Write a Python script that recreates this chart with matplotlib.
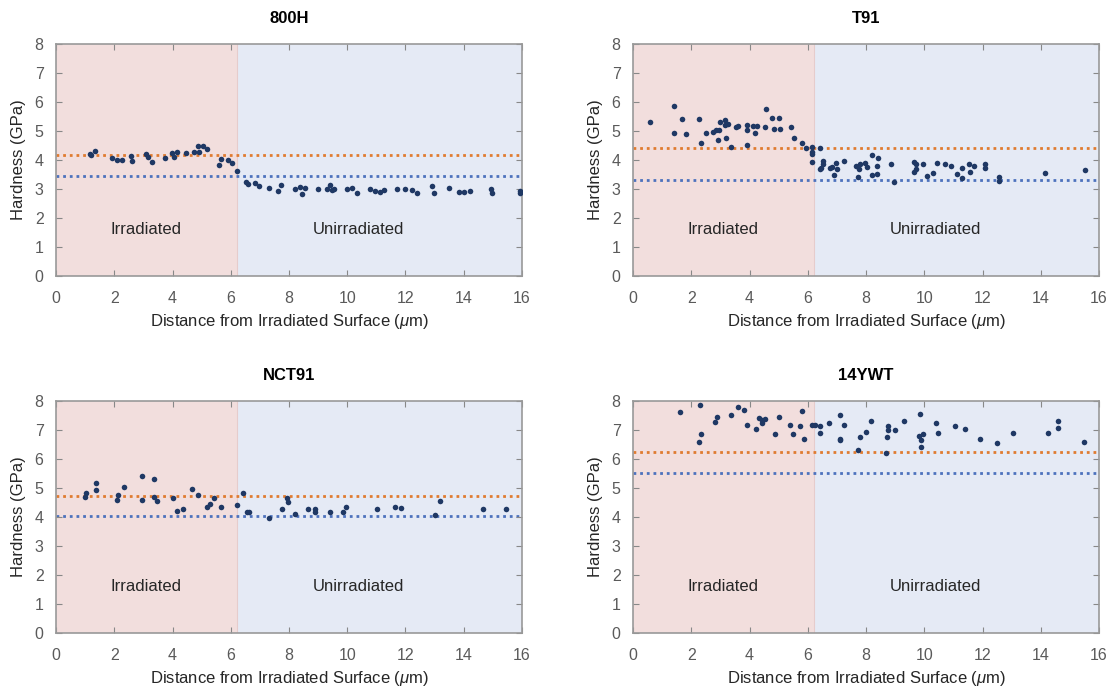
import matplotlib
matplotlib.use('Agg')
import matplotlib.pyplot as plt

plt.rcParams['font.family'] = ['Liberation Sans', 'DejaVu Sans']
plt.rcParams['mathtext.fontset'] = 'custom'
plt.rcParams['mathtext.it'] = 'Liberation Sans:italic'

boundary = 6.2

# 800H
x_800h = [1.15, 1.2, 1.34, 1.91, 2.08, 2.25, 2.56, 2.62, 3.08, 3.17, 3.29, 3.74, 3.97, 4.05,
          4.14, 4.46, 4.75, 4.87, 4.91, 5.04, 5.2, 5.61, 5.67, 5.9, 6.04, 6.23, 6.53, 6.59,
          6.84, 6.98, 7.33, 7.62, 7.72, 8.21, 8.38, 8.44, 8.56, 8.99, 9.3, 9.41, 9.47, 9.53,
          9.99, 10.16, 10.33, 10.79, 10.96, 11.13, 11.25, 11.71, 11.99, 12.22, 12.39, 12.9,
          12.97, 13.51, 13.83, 14.0, 14.23, 14.94, 14.96, 15.92, 15.93]
y_800h = [4.2, 4.16, 4.32, 4.08, 3.99, 3.99, 4.14, 3.98, 4.2, 4.12, 3.93, 4.08, 4.23, 4.09,
          4.28, 4.23, 4.26, 4.49, 4.28, 4.49, 4.38, 3.84, 4.05, 3.99, 3.88, 3.61, 3.25, 3.17,
          3.2, 3.11, 3.02, 2.94, 3.13, 3.0, 3.07, 2.83, 3.05, 2.99, 3.01, 3.14, 2.97, 2.99,
          2.99, 3.02, 2.87, 2.99, 2.94, 2.9, 2.97, 2.99, 2.99, 2.97, 2.87, 3.1, 2.85, 3.03,
          2.9, 2.9, 2.94, 2.99, 2.85, 2.94, 2.86]

# T91
x_t91 = [0.58, 1.39, 1.39, 1.67, 1.82, 2.25, 2.34, 2.49, 2.76, 2.86, 2.94, 2.91, 2.97, 3.15,
         3.17, 3.25, 3.2, 3.38, 3.52, 3.59, 3.91, 3.91, 3.91, 4.12, 4.2, 4.25, 4.54, 4.58,
         4.77, 4.85, 5.02, 5.06, 5.44, 5.54, 5.81, 5.95, 6.15, 6.15, 6.15, 6.15, 6.43, 6.53,
         6.53, 6.43, 6.76, 6.46, 6.84, 6.97, 7.01, 6.9, 7.24, 7.64, 7.75, 7.81, 7.95, 8.04,
         7.72, 8.19, 8.19, 8.42, 8.38, 8.38, 8.87, 8.96, 9.65, 9.73, 9.65, 9.7, 9.97, 10.1,
         10.31, 10.43, 10.7, 10.93, 11.11, 11.29, 11.31, 11.54, 11.57, 11.71, 12.08, 12.08,
         12.58, 12.58, 14.15, 15.53]
y_t91 = [5.32, 5.85, 4.94, 5.41, 4.9, 5.41, 4.57, 4.94, 4.98, 5.03, 5.03, 4.7, 5.32, 5.38,
         5.2, 5.24, 4.75, 4.46, 5.14, 5.18, 5.21, 5.03, 4.52, 5.17, 4.94, 5.17, 5.13, 5.75,
         5.46, 5.08, 5.46, 5.08, 5.13, 4.75, 4.6, 4.4, 4.46, 4.29, 4.21, 3.94, 4.4, 3.98,
         3.86, 3.69, 3.74, 3.71, 3.77, 3.91, 3.68, 3.5, 3.98, 3.8, 3.68, 3.85, 3.89, 3.77,
         3.42, 4.17, 3.48, 4.08, 3.79, 3.52, 3.85, 3.25, 3.94, 3.85, 3.6, 3.69, 3.85, 3.46,
         3.56, 3.89, 3.86, 3.79, 3.52, 3.74, 3.37, 3.85, 3.6, 3.8, 3.85, 3.71,
         3.4, 3.29, 3.56, 3.65]

# NCT91
x_nct91 = [0.99, 1.03, 1.37, 1.37, 2.08, 2.14, 2.33, 2.94, 2.94, 3.37, 3.38, 3.48, 4.03,
           4.15, 4.37, 4.66, 4.86, 5.18, 5.27, 5.42, 5.66, 6.22, 6.42, 6.55, 6.64, 7.33,
           7.76, 7.94, 7.95, 8.19, 8.66, 8.89, 8.9, 9.41, 9.84, 9.94, 11.03, 11.64, 11.84,
           13.02, 13.17, 14.65, 15.46]
y_nct91 = [4.7, 4.84, 5.17, 4.93, 4.6, 4.76, 5.03, 5.41, 4.6, 5.31, 4.7, 4.55, 4.64,
           4.22, 4.26, 4.98, 4.75, 4.36, 4.44, 4.64, 4.36, 4.41, 4.84, 4.16, 4.16, 3.98,
           4.26, 4.64, 4.5, 4.12, 4.26, 4.26, 4.16, 4.16, 4.16, 4.36, 4.26, 4.36, 4.31,
           4.07, 4.55, 4.26, 4.26]

# 14YWT
x_14ywt = [1.62, 2.29, 2.34, 2.28, 2.82, 2.87, 3.38, 3.62, 3.82, 3.91, 4.23, 4.33, 4.44,
           4.53, 4.43, 4.86, 5.01, 5.39, 5.48, 5.72, 5.81, 5.86, 6.13, 6.24, 6.43, 6.43,
           6.72, 7.1, 7.24, 7.1, 7.12, 7.72, 7.81, 8.0, 8.16, 8.67, 8.73, 8.76, 8.76, 9.01,
           9.3, 9.85, 9.82, 9.95, 9.9, 9.88, 10.39, 10.48, 11.06, 11.39, 11.92, 12.49, 13.06,
           14.26, 14.58, 14.58, 15.49]
y_14ywt = [7.61, 7.85, 6.85, 6.6, 7.26, 7.46, 7.52, 7.8, 7.7, 7.18, 7.03, 7.41, 7.23,
           7.37, 7.34, 6.85, 7.46, 7.18, 6.85, 7.13, 7.66, 6.7, 7.18, 7.18, 7.13, 6.9,
           7.23, 7.52, 7.18, 6.7, 6.65, 6.31, 6.75, 6.94, 7.32, 6.22, 6.75, 6.99, 7.14, 6.99,
           7.32, 7.56, 6.79, 6.85, 6.65, 6.41, 7.23, 6.9, 7.14, 7.03, 6.7, 6.56, 6.9,
           6.9, 7.08, 7.32, 6.6]

titles = ['800H', 'T91', 'NCT91', '14YWT']
xs = [x_800h, x_t91, x_nct91, x_14ywt]
ys = [y_800h, y_t91, y_nct91, y_14ywt]
irr_avg = [4.17, 4.43, 4.72, 6.25]
unirr_avg = [3.45, 3.3, 4.05, 5.53]

fig = plt.figure(figsize=(11.12, 6.94), dpi=100)
positions = [(0.0504, 0.6023), (0.5693, 0.6023), (0.0504, 0.0879), (0.5693, 0.0879)]

for i in range(4):
    ax = fig.add_axes([positions[i][0], positions[i][1], 0.419, 0.3343])
    ax.axvspan(0, boundary, color='#f2dedd', zorder=0, lw=0)
    ax.axvspan(boundary, 16, color='#e5eaf5', zorder=0, lw=0)
    ax.axvline(boundary, color='#e6cccc', lw=0.8, zorder=0.5)
    ax.axhline(irr_avg[i], color='#e07b30', lw=2, linestyle=(0, (1, 1.4)), zorder=1)
    ax.axhline(unirr_avg[i], color='#4d72bd', lw=2, linestyle=(0, (1, 1.4)), zorder=1)
    ax.scatter(xs[i], ys[i], s=16, color='#1f3864', zorder=3, linewidths=0)
    ax.text(3.1, 1.6, 'Irradiated', ha='center', va='center', fontsize=12, color='#262626')
    ax.text(10.4, 1.6, 'Unirradiated', ha='center', va='center', fontsize=12, color='#262626')
    ax.set_xlim(0, 16)
    ax.set_ylim(0, 8)
    ax.set_xticks(range(0, 17, 2))
    ax.set_yticks(range(0, 9))
    ax.tick_params(direction='in', top=True, right=True, length=4, color='#888888',
                   labelsize=11.5, labelcolor='#5a5a5a')
    ax.tick_params(axis='x', pad=11)
    ax.tick_params(axis='y', pad=9)
    for sp in ax.spines.values():
        sp.set_color('#999999')
        sp.set_linewidth(1.2)
    ax.set_title(titles[i], fontsize=12, fontweight='bold', pad=15)
    ax.set_ylabel('Hardness (GPa)', fontsize=12, color='#262626', labelpad=6)
    ax.set_xlabel(r'Distance from Irradiated Surface ($\mu$m)', fontsize=12,
                  color='#262626', labelpad=4)

fig.savefig('out.png', dpi=100)
